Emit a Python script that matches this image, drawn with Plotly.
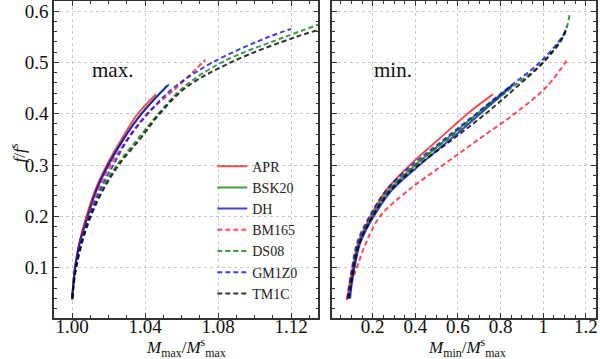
import plotly.graph_objects as go

# f / f^s along each sequence, with M_max/M^s_max (left) and M_min/M^s_max (right)
apr_f = [0.037, 0.06, 0.10, 0.15, 0.20, 0.25, 0.30, 0.35, 0.40, 0.438]
apr_mmax = [1.000, 1.0004, 1.0015, 1.004, 1.0078, 1.0125, 1.019, 1.027, 1.036, 1.046]
apr_mmin = [0.078, 0.088, 0.106, 0.133, 0.19, 0.262, 0.375, 0.51, 0.645, 0.765]

bsk20_f = [0.04, 0.06, 0.10, 0.15, 0.20, 0.25, 0.30, 0.35, 0.40, 0.455]
bsk20_mmax = [1.000, 1.0004, 1.0016, 1.0042, 1.0083, 1.0132, 1.0198, 1.028, 1.038, 1.052]
bsk20_mmin = [0.088, 0.094, 0.110, 0.137, 0.197, 0.275, 0.40, 0.545, 0.69, 0.852]

dh_f = [0.04, 0.06, 0.10, 0.15, 0.20, 0.25, 0.30, 0.35, 0.40, 0.457]
dh_mmax = [1.000, 1.0004, 1.0016, 1.0042, 1.0085, 1.013, 1.0197, 1.028, 1.038, 1.053]
dh_mmin = [0.094, 0.099, 0.114, 0.143, 0.205, 0.288, 0.42, 0.565, 0.705, 0.86]

bm165_f = [0.04, 0.06, 0.10, 0.15, 0.20, 0.25, 0.30, 0.35, 0.40, 0.45, 0.50, 0.505]
bm165_mmax = [1.000, 1.0004, 1.0016, 1.0043, 1.0085, 1.0138, 1.021, 1.030, 1.041, 1.057, 1.0715, 1.073]
bm165_mmin = [0.080, 0.090, 0.125, 0.17, 0.234, 0.365, 0.53, 0.697, 0.866, 1.01, 1.104, 1.11]

ds08_f = [0.04, 0.06, 0.10, 0.15, 0.20, 0.25, 0.30, 0.35, 0.40, 0.45, 0.50, 0.55, 0.595]
ds08_mmax = [1.000, 1.0005, 1.002, 1.0052, 1.0098, 1.016, 1.0245, 1.0357, 1.0472, 1.0605, 1.082, 1.117, 1.152]
ds08_mmin = [0.088, 0.094, 0.110, 0.137, 0.197, 0.275, 0.40, 0.55, 0.70, 0.85, 1.0, 1.095, 1.125]

gm1z0_f = [0.04, 0.06, 0.10, 0.15, 0.20, 0.25, 0.30, 0.35, 0.40, 0.45, 0.50, 0.55, 0.565]
gm1z0_mmax = [1.000, 1.0005, 1.0018, 1.0048, 1.0093, 1.015, 1.0225, 1.0305, 1.0415, 1.0554, 1.077, 1.108, 1.12]
gm1z0_mmin = [0.082, 0.088, 0.103, 0.128, 0.185, 0.262, 0.385, 0.535, 0.685, 0.835, 0.985, 1.09, 1.108]

tm1c_f = [0.04, 0.06, 0.10, 0.15, 0.20, 0.25, 0.30, 0.35, 0.40, 0.45, 0.50, 0.55, 0.57]
tm1c_mmax = [1.000, 1.0006, 1.0022, 1.0055, 1.0102, 1.0167, 1.0255, 1.037, 1.048, 1.062, 1.087, 1.123, 1.142]
tm1c_mmin = [0.090, 0.096, 0.112, 0.140, 0.200, 0.283, 0.415, 0.575, 0.73, 0.87, 1.0, 1.093, 1.11]

series = [
    ('APR', apr_f, apr_mmax, apr_mmin, 'rgba(235,20,20,0.75)', 'solid'),
    ('BSK20', bsk20_f, bsk20_mmax, bsk20_mmin, 'rgba(0,128,0,0.75)', 'solid'),
    ('DH', dh_f, dh_mmax, dh_mmin, 'rgba(0,0,230,0.75)', 'solid'),
    ('BM165', bm165_f, bm165_mmax, bm165_mmin, 'rgba(240,20,40,0.75)', '5px,3px'),
    ('DS08', ds08_f, ds08_mmax, ds08_mmin, 'rgba(0,120,0,0.75)', '5px,3px'),
    ('GM1Z0', gm1z0_f, gm1z0_mmax, gm1z0_mmin, 'rgba(0,0,220,0.75)', '5px,3px'),
    ('TM1C', tm1c_f, tm1c_mmax, tm1c_mmin, 'rgba(0,0,0,0.8)', '5px,3px'),
]

font = 'Liberation Serif'

fig = go.Figure()
for name, f, mmax, mmin, color, dash in series:
    fig.add_trace(go.Scatter(
        x=mmax, y=f, mode='lines', name=name, legendgroup=name,
        line=dict(color=color, width=2, dash=dash, shape='spline', smoothing=1.0),
        xaxis='x', yaxis='y',
    ))
    fig.add_trace(go.Scatter(
        x=mmin, y=f, mode='lines', name=name, legendgroup=name, showlegend=False,
        line=dict(color=color, width=2, dash=dash, shape='spline', smoothing=1.0),
        xaxis='x2', yaxis='y2',
    ))

axis_style = dict(
    showline=True, linecolor='#333', linewidth=1.5, mirror='allticks',
    ticks='inside', ticklen=5, tickcolor='#333',
    showgrid=True, gridcolor='#c8c8c8', griddash='dot', gridwidth=1,
    zeroline=False, automargin=False,
    tickfont=dict(family=font, size=19, color='#111'),
)

title_font = dict(family=font, size=17, color='#111')

fig.update_layout(
    width=600, height=359,
    margin=dict(l=54, r=4, t=1, b=41),
    plot_bgcolor='white', paper_bgcolor='white',
    font=dict(family=font, color='#111'),
    xaxis=dict(axis_style, domain=[0, 0.488], range=[0.990, 1.135],
               tickvals=[1.00, 1.04, 1.08, 1.12], ticktext=['1.00', '1.04', '1.08', '1.12'],
               ticklabelstandoff=-10,
               minor=dict(dtick=0.01, ticks='inside', ticklen=3, tickcolor='#333', showgrid=False)),
    yaxis=dict(axis_style, range=[0.002, 0.6195],
               tickvals=[0.1, 0.2, 0.3, 0.4, 0.5, 0.6],
               minor=dict(dtick=0.02, ticks='inside', ticklen=3, tickcolor='#333', showgrid=False)),
    xaxis2=dict(axis_style, domain=[0.513, 1], range=[0.009, 1.248], anchor='y2',
                tickvals=[0.2, 0.4, 0.6, 0.8, 1.0, 1.2],
                ticklabelstandoff=-10,
                minor=dict(dtick=0.05, ticks='inside', ticklen=3, tickcolor='#333', showgrid=False)),
    yaxis2=dict(axis_style, range=[0.002, 0.6195], anchor='x2', showticklabels=False,
                tickvals=[0.1, 0.2, 0.3, 0.4, 0.5, 0.6],
                minor=dict(dtick=0.02, ticks='inside', ticklen=3, tickcolor='#333', showgrid=False)),
    legend=dict(x=0.292, y=0.528, xanchor='left', yanchor='top',
                bgcolor='rgba(0,0,0,0)', font=dict(family=font, size=14, color='#222'),
                tracegroupgap=0, itemwidth=30),
    annotations=[
        dict(text='max.', x=1.0223, y=0.485, xref='x', yref='y', showarrow=False,
             font=dict(family=font, size=21, color='#111')),
        dict(text='min.', x=0.295, y=0.485, xref='x2', yref='y2', showarrow=False,
             font=dict(family=font, size=21, color='#111')),
        dict(text='<i>M</i><sub>max</sub>/<i>M</i><sup>s</sup><sub>max</sub>',
             x=0.244, y=-0.094, xref='paper', yref='paper', showarrow=False,
             xanchor='center', yanchor='middle', font=title_font),
        dict(text='<i>M</i><sub>min</sub>/<i>M</i><sup>s</sup><sub>max</sub>',
             x=0.762, y=-0.094, xref='paper', yref='paper', showarrow=False,
             xanchor='center', yanchor='middle', font=title_font),
        dict(text='<i>f</i>/<i>f</i><sup>s</sup>',
             x=-0.066, y=0.52, xref='paper', yref='paper', showarrow=False,
             xanchor='center', yanchor='middle', textangle=-90, font=title_font),
    ],
)

# the page body has a default 8px margin; drop it so the figure sits at the window origin
fig.write_html('out.html', config={'displayModeBar': False},
               post_script="document.body.style.margin='0';")
